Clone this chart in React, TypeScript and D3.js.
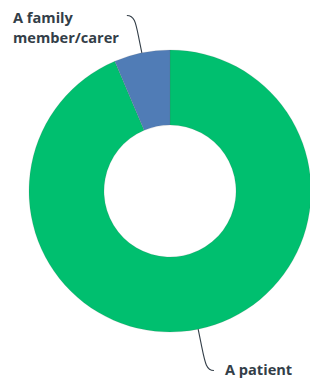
import { useEffect, useRef } from "react";
import * as d3 from "d3";

const labels = ["A patient", "A family member/carer"];
const values = [93.6, 6.4];
const colors = ["#00bf6f", "#507cb6"];
// label lines, split by hand
const labelLines = [["A patient"], ["A family", "member/carer"]];

const W = 310;
const H = 378;

export default function App() {
  const svgRef = useRef<SVGSVGElement>(null);

  useEffect(() => {
    const svg = d3.select(svgRef.current);
    svg.selectAll("*").remove();

    const cx = 170, cy = 191;
    const outerR = 141, innerR = 66;
    const g = svg.append("g").attr("transform", `translate(${cx},${cy})`);

    const data = labels.map((l, i) => ({ label: l, value: values[i], color: colors[i], lines: labelLines[i] }));
    const pie = d3.pie<any>().sort(null).value(d => d.value);
    const arc = d3.arc<any>().innerRadius(innerR).outerRadius(outerR);
    const arcs = pie(data);

    g.selectAll("path.slice").data(arcs).enter().append("path")
      .attr("class", "slice")
      .attr("d", arc)
      .attr("fill", d => d.data.color)
      .attr("stroke", "rgba(90,90,90,0.35)")
      .attr("stroke-width", 0.4);

    // leader lines + labels
    arcs.forEach(a => {
      const mid = (a.startAngle + a.endAngle) / 2;
      const pt = (r: number) => [Math.sin(mid) * r, -Math.cos(mid) * r];
      const top = Math.cos(mid) > 0;
      const [x0, y0] = pt(outerR);
      const [x1, y1] = pt(outerR + 14);
      const [x2, y2] = pt(outerR + (top ? 30 : 34));
      const side = Math.sin(mid) < 0 ? -1 : 1;
      const ex = x2 + side * 9;
      const ey = y2 + (top ? -8 : 8);
      const path = d3.path();
      path.moveTo(x0, y0);
      path.lineTo(x1, y1);
      path.bezierCurveTo(x2, y2, x2 + side * 1, ey, ex, ey);
      g.append("path").attr("d", path.toString())
        .attr("fill", "none").attr("stroke", "#333e48").attr("stroke-width", 1.1);

      const t = g.append("text")
        .attr("font-family", "'Open Sans', 'Liberation Sans', sans-serif")
        .attr("font-weight", 700)
        .attr("font-size", 14.6)
        .attr("fill", "#333e48");
      if (top) {
        a.data.lines.forEach((ln: string, i: number) => {
          t.append("tspan").attr("x", -157).attr("y", ey + 8 + i * 20).text(ln);
        });
      } else {
        a.data.lines.forEach((ln: string, i: number) => {
          t.append("tspan").attr("x", ex + 11).attr("y", ey + 5 + i * 20).text(ln);
        });
      }
    });
  }, []);

  return (
    <div style={{ position: "absolute", left: 0, top: 0, width: W, height: H, background: "#fff" }}>
      <svg ref={svgRef} width={W} height={H} />
    </div>
  );
}
